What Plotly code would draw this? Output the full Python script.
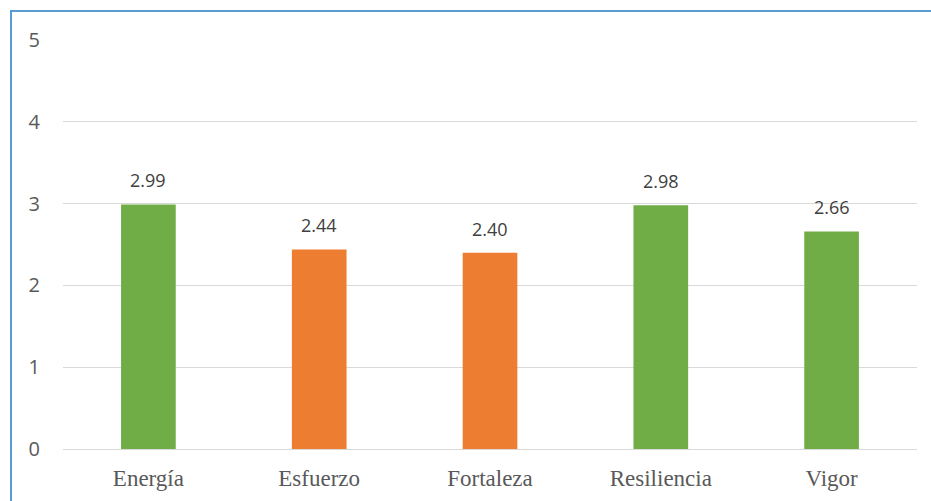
import plotly.graph_objects as go

categories = ["Energía", "Esfuerzo", "Fortaleza", "Resiliencia", "Vigor"]
values = [2.99, 2.44, 2.40, 2.98, 2.66]
bar_colors = ["#70AD47", "#ED7D31", "#ED7D31", "#70AD47", "#70AD47"]
y_ticks = [0, 1, 2, 3, 4, 5]

W, H = 931, 501
ML, MR, MT, MB = 63, 14, 40, 52
plot_w = W - ML - MR
plot_h = H - MT - MB

fig = go.Figure()
fig.add_trace(go.Bar(
    x=categories,
    y=values,
    marker=dict(color=bar_colors, line=dict(width=0)),
    width=0.32,
    hoverinfo="x+y",
))

# value labels above each bar
for c, v in zip(categories, values):
    fig.add_annotation(
        x=c, y=v, text=f"{v:.2f}", showarrow=False,
        yanchor="bottom", yshift=10,
        font=dict(family="Open Sans", size=18, color="#404040"),
    )

# blue frame around the chart area
px_x = lambda p: (p - ML) / plot_w
px_y = lambda p: (H - MB - p) / plot_h
fig.add_shape(type="rect", xref="paper", yref="paper",
              x0=px_x(11), x1=px_x(W + 20), y0=px_y(H + 20), y1=px_y(11),
              line=dict(color="#5B9BD5", width=2), fillcolor="rgba(0,0,0,0)",
              layer="above")

fig.update_layout(
    width=W, height=H,
    margin=dict(l=ML, r=MR, t=MT, b=MB, autoexpand=False),
    paper_bgcolor="white", plot_bgcolor="white",
    showlegend=False,
    xaxis=dict(
        showgrid=False, showline=False, zeroline=False, ticks="",
        automargin=False,
        tickfont=dict(family="Liberation Serif", size=23, color="#595959"),
        ticklabelstandoff=13,
    ),
    yaxis=dict(
        range=[0, 5], tickvals=y_ticks, showgrid=True, gridcolor="#D9D9D9",
        gridwidth=1, zeroline=True, zerolinecolor="#D9D9D9", zerolinewidth=1,
        showline=False, ticks="", automargin=False,
        tickfont=dict(family="Open Sans", size=20, color="#595959"),
        ticklabelstandoff=22,
    ),
)

fig.write_html("out.html")
